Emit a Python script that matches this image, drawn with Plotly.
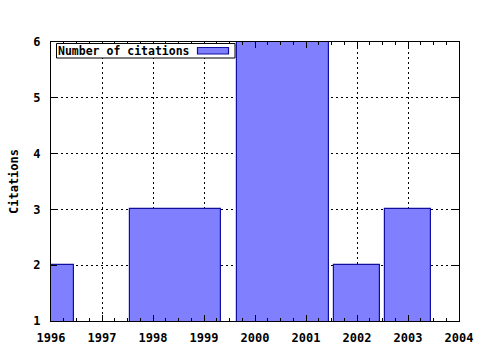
import plotly.graph_objects as go

# Data
bin_centers = [1996.0, 1998.44, 2000.555, 2002.0, 2003.0]
bin_widths = [0.9, 1.8, 1.81, 0.9, 0.9]
citations = [2, 3, 6, 2, 3]
x_ticks = [1996, 1997, 1998, 1999, 2000, 2001, 2002, 2003, 2004]
y_ticks = [1, 2, 3, 4, 5, 6]
series_name = "Number of citations"

FONT = "DejaVu Sans Mono"
FILL = "#8080ff"
EDGE = "#1010a0"

fig = go.Figure()
fig.add_trace(go.Bar(
    x=bin_centers, y=citations, width=bin_widths, base=0,
    name=series_name,
    marker=dict(color=FILL, line=dict(color=EDGE, width=1.2)),
    showlegend=False,
))

axis_common = dict(
    showline=True, linecolor="black", linewidth=1, mirror="ticks",
    ticks="inside", ticklen=6, tickcolor="black", tickwidth=1,
    showgrid=True, gridcolor="black", gridwidth=1, griddash="2px,3px",
    zeroline=False,
    tickfont=dict(family=FONT, size=12, color="black", weight="bold"),
)

fig.update_xaxes(
    range=[1996, 2004], tickvals=x_ticks, ticktext=[str(v) for v in x_ticks],
    ticklabelstandoff=6,
    minor=dict(dtick=0.25, tick0=1996, ticks="inside", ticklen=3, tickcolor="black", showgrid=False),
    **axis_common,
)
fig.update_yaxes(
    range=[1, 6], tickvals=y_ticks, ticktext=[str(v) for v in y_ticks],
    ticklabelstandoff=7,
    title=dict(text="Citations", font=dict(family=FONT, size=12, color="black", weight="bold"), standoff=12),
    **axis_common,
)

# Legend box (gnuplot style: text left, swatch right)
fig.add_shape(type="rect", xref="paper", yref="paper",
              x0=(56.5 - 51) / 408, x1=(235 - 51) / 408,
              y0=(321 - 58) / 279, y1=(321 - 43.5) / 279,
              line=dict(color="black", width=1), fillcolor="white", layer="above")
fig.add_shape(type="rect", xref="paper", yref="paper",
              x0=(197.5 - 51) / 408, x1=(228.5 - 51) / 408,
              y0=(321 - 54) / 279, y1=(321 - 47.5) / 279,
              line=dict(color=EDGE, width=1.2), fillcolor=FILL, layer="above")
fig.add_annotation(xref="paper", yref="paper",
                   x=(56 - 51) / 408, y=(321 - 50.5) / 279,
                   xanchor="left", yanchor="middle", showarrow=False,
                   text=series_name,
                   font=dict(family=FONT, size=11.5, color="black", weight="bold"))

fig.update_layout(
    width=480, height=350,
    margin=dict(l=51, r=21, t=42, b=29, autoexpand=False),
    paper_bgcolor="white", plot_bgcolor="white",
    bargap=0, showlegend=False,
)

fig.write_html("out.html")
